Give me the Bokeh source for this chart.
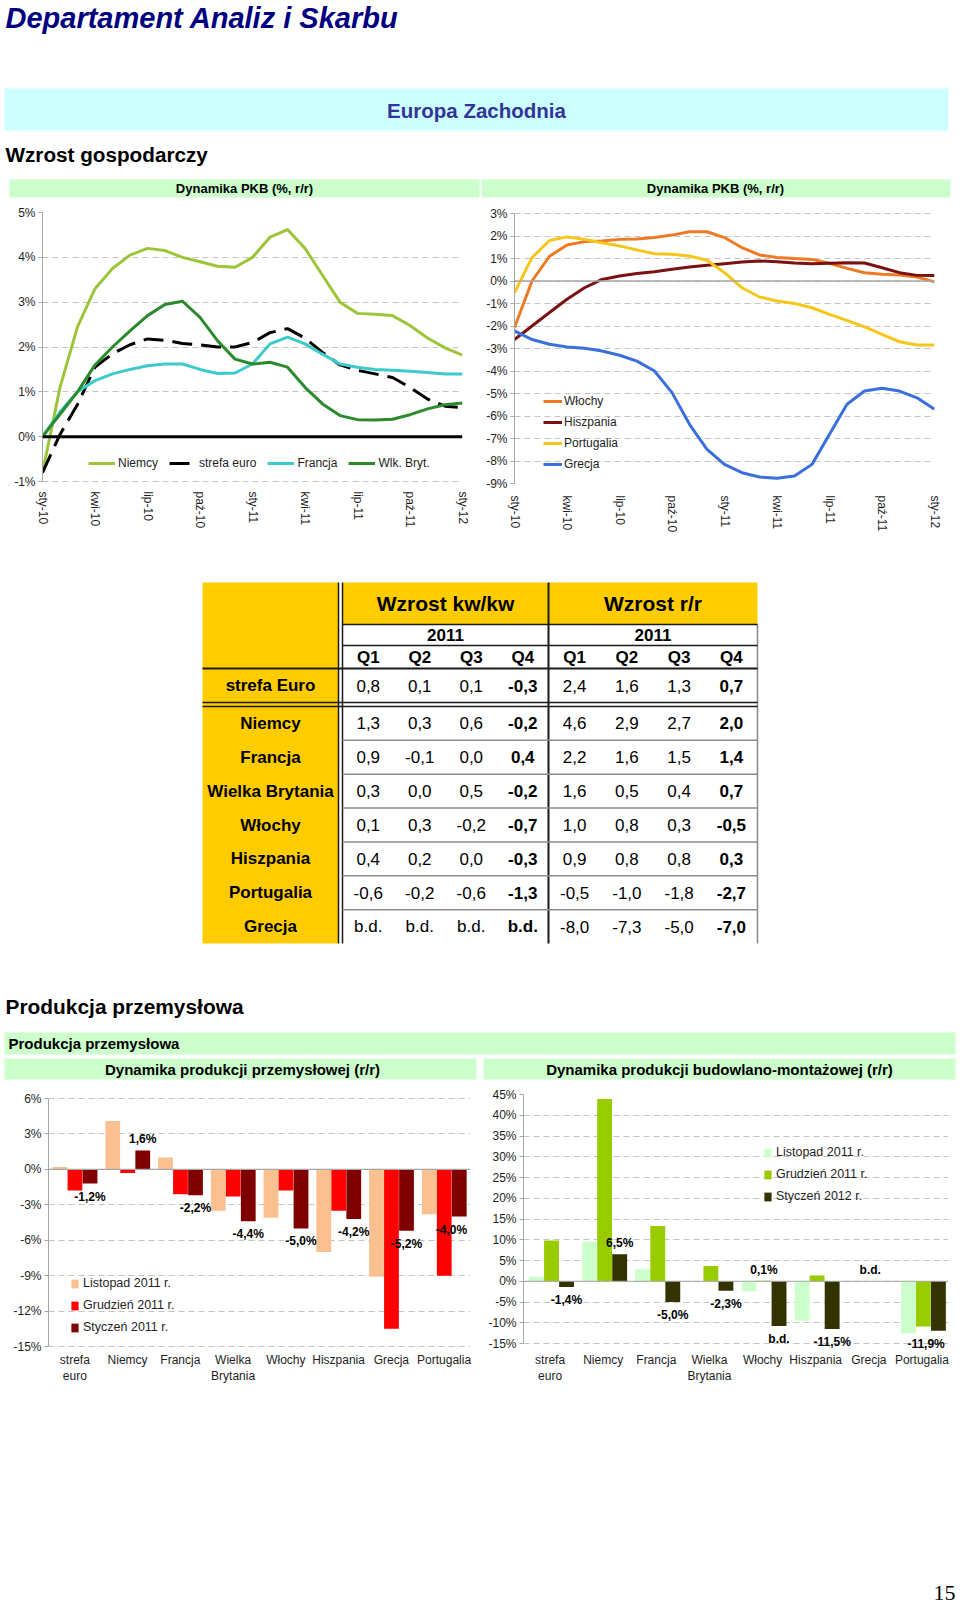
import numpy as np
from bokeh.plotting import figure
from bokeh.models import Range1d, FixedTicker, Span, Legend, LegendItem, LabelSet, ColumnDataSource
from bokeh.layouts import column, row
from bokeh.core.properties import value
from bokeh.embed import file_html
from bokeh.resources import INLINE

FONT = "Liberation Sans"

# ---------------- data ----------------
month_ticks = ["sty-10", "kwi-10", "lip-10", "paź-10", "sty-11", "kwi-11", "lip-11", "paź-11", "sty-12"]

# GDP y/y, monthly readings from sty-10 (0) to sty-12 (24)
niemcy = [-0.8, 1.1, 2.45, 3.3, 3.75, 4.05, 4.2, 4.15, 4.0, 3.9, 3.8, 3.78, 4.0, 4.45, 4.62,
          4.2, 3.6, 3.0, 2.75, 2.73, 2.7, 2.48, 2.2, 1.98, 1.82]
strefa_euro = [-0.8, 0.05, 0.72, 1.55, 1.85, 2.05, 2.18, 2.15, 2.08, 2.05, 2.0, 2.0, 2.1, 2.32,
               2.41, 2.2, 1.88, 1.6, 1.48, 1.4, 1.32, 1.1, 0.84, 0.68, 0.65]
francja = [0.0, 0.55, 1.0, 1.25, 1.4, 1.5, 1.58, 1.62, 1.62, 1.5, 1.41, 1.42, 1.62, 2.07, 2.22,
           2.07, 1.84, 1.62, 1.55, 1.5, 1.48, 1.46, 1.43, 1.4, 1.4]
wlk_bryt = [0.0, 0.5, 1.0, 1.6, 2.0, 2.36, 2.7, 2.95, 3.02, 2.66, 2.14, 1.73, 1.62, 1.66, 1.55,
            1.1, 0.73, 0.47, 0.38, 0.37, 0.39, 0.49, 0.62, 0.71, 0.75]

wlochy = [-2.07, 0.0, 1.1, 1.6, 1.75, 1.78, 1.85, 1.87, 1.93, 2.04, 2.19, 2.19, 1.93, 1.48, 1.16,
          1.04, 1.0, 0.96, 0.79, 0.56, 0.37, 0.3, 0.27, 0.18, -0.04]
hiszpania = [-2.6, -2.0, -1.4, -0.81, -0.3, 0.07, 0.22, 0.33, 0.41, 0.52, 0.62, 0.7, 0.77, 0.84,
             0.89, 0.86, 0.8, 0.77, 0.79, 0.81, 0.8, 0.59, 0.37, 0.25, 0.24]
portugalia = [-0.52, 1.04, 1.8, 1.96, 1.85, 1.7, 1.56, 1.38, 1.21, 1.19, 1.11, 0.92, 0.37, -0.3,
              -0.71, -0.89, -1.0, -1.19, -1.48, -1.75, -2.04, -2.37, -2.7, -2.84, -2.84]
grecja = [-2.22, -2.6, -2.81, -2.93, -2.99, -3.11, -3.3, -3.56, -4.0, -4.96, -6.37, -7.48, -8.15,
          -8.52, -8.71, -8.77, -8.67, -8.15, -6.81, -5.48, -4.89, -4.77, -4.89, -5.19, -5.7]

# table
tbl_rows = ["strefa Euro", "Niemcy", "Francja", "Wielka Brytania", "Włochy", "Hiszpania",
            "Portugalia", "Grecja"]
tbl_quarters = ["Q1", "Q2", "Q3", "Q4"]
kw_q1 = ["0,8", "1,3", "0,9", "0,3", "0,1", "0,4", "-0,6", "b.d."]
kw_q2 = ["0,1", "0,3", "-0,1", "0,0", "0,3", "0,2", "-0,2", "b.d."]
kw_q3 = ["0,1", "0,6", "0,0", "0,5", "-0,2", "0,0", "-0,6", "b.d."]
kw_q4 = ["-0,3", "-0,2", "0,4", "-0,2", "-0,7", "-0,3", "-1,3", "b.d."]
rr_q1 = ["2,4", "4,6", "2,2", "1,6", "1,0", "0,9", "-0,5", "-8,0"]
rr_q2 = ["1,6", "2,9", "1,6", "0,5", "0,8", "0,8", "-1,0", "-7,3"]
rr_q3 = ["1,3", "2,7", "1,5", "0,4", "0,3", "0,8", "-1,8", "-5,0"]
rr_q4 = ["0,7", "2,0", "1,4", "0,7", "-0,5", "0,3", "-2,7", "-7,0"]

# industrial production
prod_cats = ["strefa\neuro", "Niemcy", "Francja", "Wielka\nBrytania", "Włochy", "Hiszpania",
             "Grecja", "Portugalia"]
prod_listopad = [0.2, 4.1, 1.0, -3.5, -4.1, -7.0, -9.1, -3.8]
prod_grudzien = [-1.8, -0.3, -2.1, -2.3, -1.8, -3.5, -13.5, -9.0]
prod_styczen = [-1.2, 1.6, -2.2, -4.4, -5.0, -4.2, -5.2, -4.0]
prod_labels = ["-1,2%", "1,6%", "-2,2%", "-4,4%", "-5,0%", "-4,2%", "-5,2%", "-4,0%"]

# construction
bud_cats = ["strefa\neuro", "Niemcy", "Francja", "Wielka\nBrytania", "Włochy", "Hiszpania",
            "Grecja", "Portugalia"]
bud_listopad = [1.1, 9.6, 2.9, 0.0, -2.4, -9.5, 0.0, -12.5]
bud_grudzien = [9.8, 43.9, 13.3, 3.7, 0.1, 1.4, 0.0, -10.9]
bud_styczen = [-1.4, 6.5, -5.0, -2.3, -10.8, -11.5, 0.0, -11.9]
bud_lab_cat = [0, 1, 2, 3, 4, 4, 5, 6, 7]
bud_lab_series = [2, 2, 2, 2, 1, 2, 2, 1, 2]
bud_lab_value = [-1.4, 6.5, -5.0, -2.3, 0.1, -10.8, -11.5, 0.0, -11.9]
bud_lab_text = ["-1,4%", "6,5%", "-5,0%", "-2,3%", "0,1%", "b.d.", "-11,5%", "b.d.", "-11,9%"]


# ---------------- helpers ----------------
def canvas(w, h, y0):
    p = figure(width=w, height=h, x_range=Range1d(0, w), y_range=Range1d(y0 + h, y0),
               toolbar_location=None, output_backend="svg", min_border=0,
               x_axis_location=None, y_axis_location=None)
    p.grid.visible = False
    p.outline_line_color = None
    return p


def txt(p, x, y, s, size, style="normal", color="black", align="left", font=FONT):
    p.text(x=x if isinstance(x, list) else [x], y=y if isinstance(y, list) else [y],
           text=s if isinstance(s, list) else [s],
           text_font=value(font), text_font_size=size, text_font_style=style,
           text_color=color, text_align=align, text_baseline="middle")


def padded_range(lo, hi, px_lo, px_hi, frame_h):
    # data range whose ticks lo..hi occupy pixels px_hi (top) .. px_lo (bottom) of the frame
    scale = (px_lo - px_hi) / (hi - lo)
    return Range1d(lo - (frame_h - px_lo) / scale, hi + px_hi / scale)


def style_chart(p, yticks, ylabels):
    p.outline_line_color = None
    p.xgrid.visible = False
    p.ygrid.grid_line_color = "#c4c4c4"
    p.ygrid.grid_line_dash = "6 4"
    p.yaxis.ticker = FixedTicker(ticks=yticks)
    p.yaxis.bounds = (min(yticks), max(yticks))
    p.yaxis.major_label_overrides = dict(zip(yticks, ylabels))
    p.yaxis.axis_line_color = "#a6a6a6"
    p.yaxis.major_tick_line_color = "#a6a6a6"
    p.yaxis.major_tick_out = 4
    p.yaxis.major_tick_in = 0
    p.yaxis.minor_tick_line_color = None
    p.yaxis.major_label_standoff = 3
    p.xaxis.axis_line_color = None
    p.xaxis.major_tick_line_color = None
    p.xaxis.minor_tick_line_color = None
    for ax in (p.xaxis, p.yaxis):
        ax.major_label_text_font = FONT
        ax.major_label_text_font_size = "12px"
        ax.major_label_text_color = "#1e1e1e"


def legend(items, loc, orientation="vertical", gw=27, gh=20, lh=20, spacing=1, standoff=3,
           size="12px"):
    lg = Legend(items=items, location=loc, orientation=orientation, glyph_width=gw,
                glyph_height=gh, label_height=lh, spacing=spacing, label_standoff=standoff,
                padding=0, margin=0, border_line_color=None, background_fill_alpha=0,
                label_text_font=FONT, label_text_font_size=size, label_text_color="#1e1e1e")
    return lg


# ---------------- header canvas ----------------
cA = canvas(960, 200, 0)
txt(cA, 5, 17, "Departament Analiz i Skarbu", "29px", "bold italic", "#000080")
cA.quad(left=[4], right=[948], top=[88], bottom=[130], fill_color="#ccffff", line_color=None)
txt(cA, 476, 110, "Europa Zachodnia", "20.5px", "bold", "#333399", "center")
txt(cA, 5, 154, "Wzrost gospodarczy", "20.7px", "bold")
cA.quad(left=[9, 481], right=[479, 950], top=[179, 179], bottom=[197, 197],
        fill_color="#ccffcc", line_color=None)
txt(cA, [244, 715], [188, 188], ["Dynamika PKB (%, r/r)"] * 2, "13px", "bold", "black", "center")

# ---------------- GDP charts ----------------
months = list(range(len(niemcy)))
tick_pos = list(range(0, 25, 3))
TOP_H, TOP_BT, TOP_BB = 335, 12, 52
top_frame = TOP_H - TOP_BT - TOP_BB

pL = figure(width=480, height=TOP_H, x_range=Range1d(0, 24),
            y_range=padded_range(-1, 5, 269, 0, top_frame),
            toolbar_location=None, output_backend="svg", min_border_left=42,
            min_border_right=18, min_border_top=TOP_BT, min_border_bottom=TOP_BB)
style_chart(pL, list(range(-1, 6)), [f"{t}%" for t in range(-1, 6)])
pL.xaxis.ticker = FixedTicker(ticks=tick_pos)
pL.xaxis.major_label_overrides = dict(zip(tick_pos, month_ticks))
pL.xaxis.major_label_orientation = "vertical"
pL.xaxis.major_label_standoff = 2
pL.add_layout(Span(location=0, dimension="width", line_color="black", line_width=3))
rN = pL.line(months, niemcy, line_color="#9dc53a", line_width=3)
rE = pL.line(months, strefa_euro, line_color="black", line_width=3, line_dash="20 9")
rF = pL.line(months, francja, line_color="#3ccaca", line_width=3)
rW = pL.line(months, wlk_bryt, line_color="#2b8a2b", line_width=3)
pL.add_layout(legend([LegendItem(label="Niemcy", renderers=[rN]),
                      LegendItem(label="strefa euro", renderers=[rE]),
                      LegendItem(label="Francja", renderers=[rF]),
                      LegendItem(label="Wlk. Bryt.", renderers=[rW])],
                     (46, 10), "horizontal", gw=27, spacing=11))

pR = figure(width=480, height=TOP_H, x_range=Range1d(0, 24),
            y_range=padded_range(-9, 3, 271, 1, top_frame),
            toolbar_location=None, output_backend="svg", min_border_left=34,
            min_border_right=26, min_border_top=TOP_BT, min_border_bottom=TOP_BB)
style_chart(pR, list(range(-9, 4)), [f"{t}%" for t in range(-9, 4)])
pR.xaxis.ticker = FixedTicker(ticks=tick_pos)
pR.xaxis.major_label_overrides = dict(zip(tick_pos, month_ticks))
pR.xaxis.major_label_orientation = "vertical"
pR.xaxis.major_label_standoff = 6
pR.add_layout(Span(location=0, dimension="width", line_color="#a6a6a6", line_width=1.5))
r1 = pR.line(months, wlochy, line_color="#ee7a24", line_width=3)
r2 = pR.line(months, hiszpania, line_color="#7a1212", line_width=3)
r3 = pR.line(months, portugalia, line_color="#f6c71a", line_width=3)
r4 = pR.line(months, grecja, line_color="#3b6fdc", line_width=3)
pR.add_layout(legend([LegendItem(label="Włochy", renderers=[r1]),
                      LegendItem(label="Hiszpania", renderers=[r2]),
                      LegendItem(label="Portugalia", renderers=[r3]),
                      LegendItem(label="Grecja", renderers=[r4])],
                     (29, 9), gw=19, standoff=2))

# ---------------- table canvas ----------------
cC = canvas(960, 547, 535)
T_L, T_LAB, T_D, T_MID, T_R = 202, 338, 342, 548, 757
Y_TOP, Y_HDR, Y_YEAR, Y_Q, Y_EURO, Y_ROWS, Y_BOT = 582, 624, 645, 668, 702, 706, 943
YELLOW = "#ffcc00"
cC.quad(left=[T_L, T_D], right=[T_LAB, T_R], top=[Y_TOP, Y_TOP], bottom=[Y_BOT, Y_HDR],
        fill_color=YELLOW, line_color=None)
txt(cC, [(T_D + T_MID) / 2, (T_MID + T_R) / 2], [603, 603], ["Wzrost kw/kw", "Wzrost r/r"],
    "21px", "bold", "black", "center")
txt(cC, [(T_D + T_MID) / 2, (T_MID + T_R) / 2], [634.5, 634.5], ["2011", "2011"],
    "17px", "bold", "black", "center")
kw_w = (T_MID - T_D) / 4
rr_w = (T_R - T_MID) / 4
col_x = [T_D + (j + 0.5) * kw_w for j in range(4)] + [T_MID + (j + 0.5) * rr_w for j in range(4)]
txt(cC, col_x, [656.5] * 8, tbl_quarters * 2, "17px", "bold", "black", "center")
row_h = (Y_BOT - Y_ROWS) / 7
row_y = [(Y_Q + Y_EURO) / 2] + [Y_ROWS + (i + 0.5) * row_h for i in range(7)]
txt(cC, [(T_L + T_LAB) / 2] * 8, row_y, tbl_rows, "17px", "bold", "black", "center")
columns = [kw_q1, kw_q2, kw_q3, kw_q4, rr_q1, rr_q2, rr_q3, rr_q4]
for j, col in enumerate(columns):
    bold = "bold" if j in (3, 7) else "normal"
    txt(cC, [col_x[j]] * 8, row_y, col, "17px", bold, "black", "center")
# grid lines of the table
cC.segment(x0=[T_LAB, T_D, T_MID], x1=[T_LAB, T_D, T_MID], y0=[Y_TOP] * 3, y1=[Y_BOT] * 3,
           line_color="#1a1a1a", line_width=[1.5, 1.5, 2])
cC.segment(x0=[T_R], x1=[T_R], y0=[Y_HDR], y1=[Y_BOT], line_color="#8a8a8a", line_width=1.5)
cC.segment(x0=[T_D, T_D, T_L, T_L, T_L], x1=[T_R] * 5,
           y0=[Y_HDR, Y_YEAR, Y_Q, Y_EURO, Y_ROWS], y1=[Y_HDR, Y_YEAR, Y_Q, Y_EURO, Y_ROWS],
           line_color="#1a1a1a", line_width=[1.5, 1.5, 2, 1.5, 1.5])
sep_y = [Y_ROWS + k * row_h for k in range(1, 7)]
cC.segment(x0=[T_D] * 6, x1=[T_R] * 6, y0=sep_y, y1=sep_y, line_color="#8c8c8c", line_width=1.5)

txt(cC, 5, 1006, "Produkcja przemysłowa", "20.9px", "bold")
cC.quad(left=[4, 4, 483], right=[955, 476, 955], top=[1032, 1058, 1058],
        bottom=[1054, 1079, 1079], fill_color="#ccffcc", line_color=None)
txt(cC, 8, 1043, "Produkcja przemysłowa", "15px", "bold")
txt(cC, [242, 719], [1068.5, 1068.5],
    ["Dynamika produkcji przemysłowej (r/r)", "Dynamika produkcji budowlano-montażowej (r/r)"],
    "15px", "bold", "black", "center")

# ---------------- bar charts ----------------
BAR_H, BAR_BT, BAR_BB = 318, 12, 48
bar_frame = BAR_H - BAR_BT - BAR_BB


def bar_chart(cats, series, colors, names, yrange, yticks, lr, offsets, leg_loc):
    left, right = lr
    p = figure(width=480, height=BAR_H, x_range=Range1d(0, len(cats)), y_range=yrange,
               toolbar_location=None, output_backend="svg", min_border_left=left,
               min_border_right=right, min_border_top=BAR_BT, min_border_bottom=BAR_BB)
    style_chart(p, yticks, [f"{t}%" for t in yticks])
    centers = [i + 0.5 for i in range(len(cats))]
    p.xaxis.ticker = FixedTicker(ticks=centers)
    p.xaxis.major_label_overrides = dict(zip(centers, cats))
    p.xaxis.major_label_standoff = -6
    items = []
    for k, (vals, col, name) in enumerate(zip(series, colors, names)):
        xs = [i + offsets[k] for i in range(len(cats))]
        r = p.vbar(x=xs, top=vals, bottom=0, width=0.28, fill_color=col, line_color=None)
        items.append(LegendItem(label=name, renderers=[r]))
    p.add_layout(Span(location=0, dimension="width", line_color="#a6a6a6", line_width=1.2))
    p.add_layout(legend(items, leg_loc, gw=9, gh=11, lh=11, spacing=8, standoff=4,
                        size="12.5px"))
    return p


def bar_labels(p, xs, vals, texts, ncat, frame_w):
    for sign, off in ((1, 11), (-1, -13)):
        sel = [(x, v, t) for x, v, t in zip(xs, vals, texts) if (v >= 0) == (sign > 0)]
        if not sel:
            continue
        xoff = []
        for x, v, t in sel:
            cpx = x / ncat * frame_w
            over = cpx + len(t) * 3.4 - (frame_w - 2)
            xoff.append(-over if over > 0 else 0)
        src = ColumnDataSource(dict(x=[s[0] for s in sel], y=[s[1] for s in sel],
                                    t=[s[2] for s in sel], xo=xoff))
        p.add_layout(LabelSet(x="x", y="y", text="t", source=src, y_offset=off, x_offset="xo",
                              text_font=value(FONT), text_font_size="12px",
                              text_font_style="bold", text_color="black",
                              text_align="center", text_baseline="middle"))


prod_off = [0.218, 0.502, 0.787]
pBL = bar_chart(prod_cats, [prod_listopad, prod_grudzien, prod_styczen],
                ["#fac090", "#ff0000", "#7f0000"],
                ["Listopad 2011 r.", "Grudzień 2011 r.", "Styczeń 2011 r."],
                padded_range(-15, 6, 252, 4, bar_frame), list(range(-15, 7, 3)), (48, 10),
                prod_off, (22, 18))
bar_labels(pBL, [i + prod_off[2] for i in range(len(prod_cats))], prod_styczen, prod_labels,
           len(prod_cats), 422)

bud_off = [0.245, 0.527, 0.81]
pBR = bar_chart(bud_cats, [bud_listopad, bud_grudzien, bud_styczen],
                ["#ccffcc", "#99cc00", "#333300"],
                ["Listopad 2011 r.", "Grudzień 2011 r.", "Styczeń 2012 r."],
                padded_range(-15, 45, 249, 0, bar_frame), list(range(-15, 46, 5)), (43, 12),
                bud_off, (240, 149))
bar_labels(pBR, [c + bud_off[s] for c, s in zip(bud_lab_cat, bud_lab_series)],
           bud_lab_value, bud_lab_text, len(bud_cats), 425)

# ---------------- footer ----------------
cE = canvas(960, 208, 1400)
txt(cE, 955, 1592, "15", "22px", "normal", "black", "right", "Liberation Serif")

page = column(cA, row(pL, pR, spacing=0), cC, row(pBL, pBR, spacing=0), cE, spacing=0)

open("out.html", "w").write(file_html(page, INLINE))
